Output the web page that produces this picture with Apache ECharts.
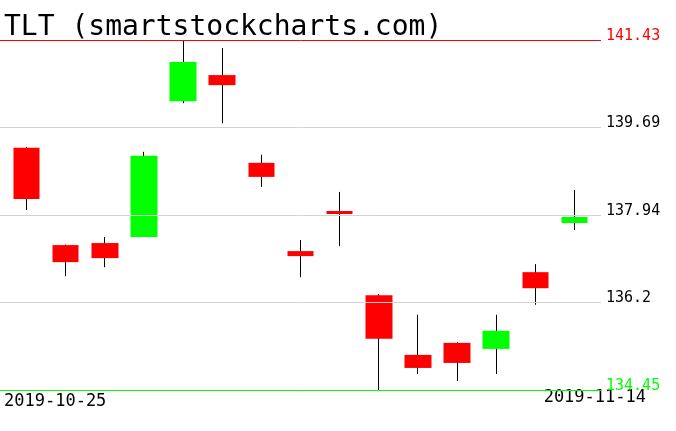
<!DOCTYPE html>
<html>
<head>
<meta charset="utf-8">
<script src="https://cdn.jsdelivr.net/npm/echarts@6/dist/echarts.min.js"></script>
<style>
html,body{margin:0;padding:0;background:#fff;}
#chart{width:676px;height:431px;}
</style>
</head>
<body>
<div id="chart"></div>
<script>
// ---- data ----
var titleText = 'TLT (smartstockcharts.com)';
var dates = ['2019-10-25','2019-10-28','2019-10-29','2019-10-30','2019-10-31','2019-11-01',
             '2019-11-04','2019-11-05','2019-11-06','2019-11-07','2019-11-08',
             '2019-11-11','2019-11-12','2019-11-13','2019-11-14'];
var opens  = [139.28, 137.34, 137.38, 137.50, 140.21, 140.73, 138.98, 137.22, 138.02, 136.34, 135.15, 135.39, 135.27, 136.80, 137.78];
var closes = [138.26, 137.00, 137.08, 139.12, 140.99, 140.53, 138.70, 137.12, 137.96, 135.47, 134.89, 134.99, 135.63, 136.48, 137.90];
var highs  = [139.30, 137.35, 137.50, 139.20, 141.43, 141.27, 139.14, 137.44, 138.40, 136.36, 135.95, 135.40, 135.95, 136.96, 138.44];
var lows   = [138.04, 136.72, 136.90, 137.50, 140.17, 139.77, 138.50, 136.70, 137.32, 134.45, 134.77, 134.63, 134.77, 136.15, 137.64];
var tickValues = [141.43, 139.69, 137.94, 136.2, 134.45];
var tickLabels = ['141.43', '139.69', '137.94', '136.2', '134.45'];

var yMin = 134.45, yMax = 141.43;
var FONT = 'DejaVu Sans Mono';

var bodyData = dates.map(function (d, i) {
  return [opens[i], closes[i], Math.min(opens[i], closes[i]), Math.max(opens[i], closes[i])];
});
var wickData = dates.map(function (d, i) { return [i, lows[i], highs[i]]; });

var lineColors = tickValues.map(function (v, i) {
  return i === 0 ? '#ff0000' : (i === tickValues.length - 1 ? '#00ff00' : '#d3d3d3');
});
var labelColors = tickValues.map(function (v, i) {
  return i === 0 ? '#ff0000' : (i === tickValues.length - 1 ? '#00ff00' : '#000000');
});

var chart = echarts.init(document.getElementById('chart'), null, {renderer: 'canvas'});
chart.setOption({
  animation: false,
  backgroundColor: '#ffffff',
  grid: [
    {left: 0, right: 75, top: 40, bottom: 41},
    {left: 7, right: 82, top: 40, bottom: 41}
  ],
  xAxis: [
    {gridIndex: 0, type: 'value', min: 0, max: 1, show: false},
    {gridIndex: 1, type: 'category', data: dates, show: false, boundaryGap: true}
  ],
  yAxis: [
    {gridIndex: 0, type: 'value', min: yMin, max: yMax, show: false, splitLine: {show: false}},
    {gridIndex: 1, type: 'value', min: yMin, max: yMax, show: false, splitLine: {show: false}}
  ],
  graphic: [
    {type: 'text', left: 4, top: 14, style: {text: titleText, font: '28px "' + FONT + '"', fill: '#000'}},
    {type: 'text', left: 4, top: 393, style: {text: dates[0], font: '17px "' + FONT + '"', fill: '#000'}},
    {type: 'text', right: 30, top: 389, style: {text: dates[dates.length - 1], font: '17px "' + FONT + '"', fill: '#000'}}
  ],
  series: [
    {
      type: 'line', xAxisIndex: 0, yAxisIndex: 0, data: [], silent: true,
      markLine: {
        silent: true, symbol: 'none', animation: false,
        data: tickValues.map(function (v, i) {
          return {
            yAxis: v,
            lineStyle: {color: lineColors[i], width: 1, type: 'solid'},
            label: {
              show: true, position: 'end', distance: 5,
              formatter: '{t|' + tickLabels[i] + '}\n{s|}',
              rich: {
                t: {color: labelColors[i], fontFamily: FONT, fontSize: 15, lineHeight: 15},
                s: {fontSize: 8, lineHeight: 8}
              }
            }
          };
        })
      }
    },
    {
      type: 'custom', xAxisIndex: 1, yAxisIndex: 1, data: wickData, z: 2,
      renderItem: function (params, api) {
        var p1 = api.coord([api.value(0), api.value(1)]);
        var p2 = api.coord([api.value(0), api.value(2)]);
        var x = Math.floor(p1[0]) + 0.5;
        return {type: 'line', shape: {x1: x, y1: p1[1], x2: x, y2: p2[1]},
                style: {stroke: '#000', lineWidth: 1}};
      }
    },
    {
      type: 'candlestick', xAxisIndex: 1, yAxisIndex: 1, data: bodyData, z: 3,
      barWidth: 27,
      itemStyle: {color: '#00ff00', color0: '#ff0000', borderColor: '#00ff00', borderColor0: '#ff0000', borderWidth: 0}
    }
  ]
});
</script>
</body>
</html>
